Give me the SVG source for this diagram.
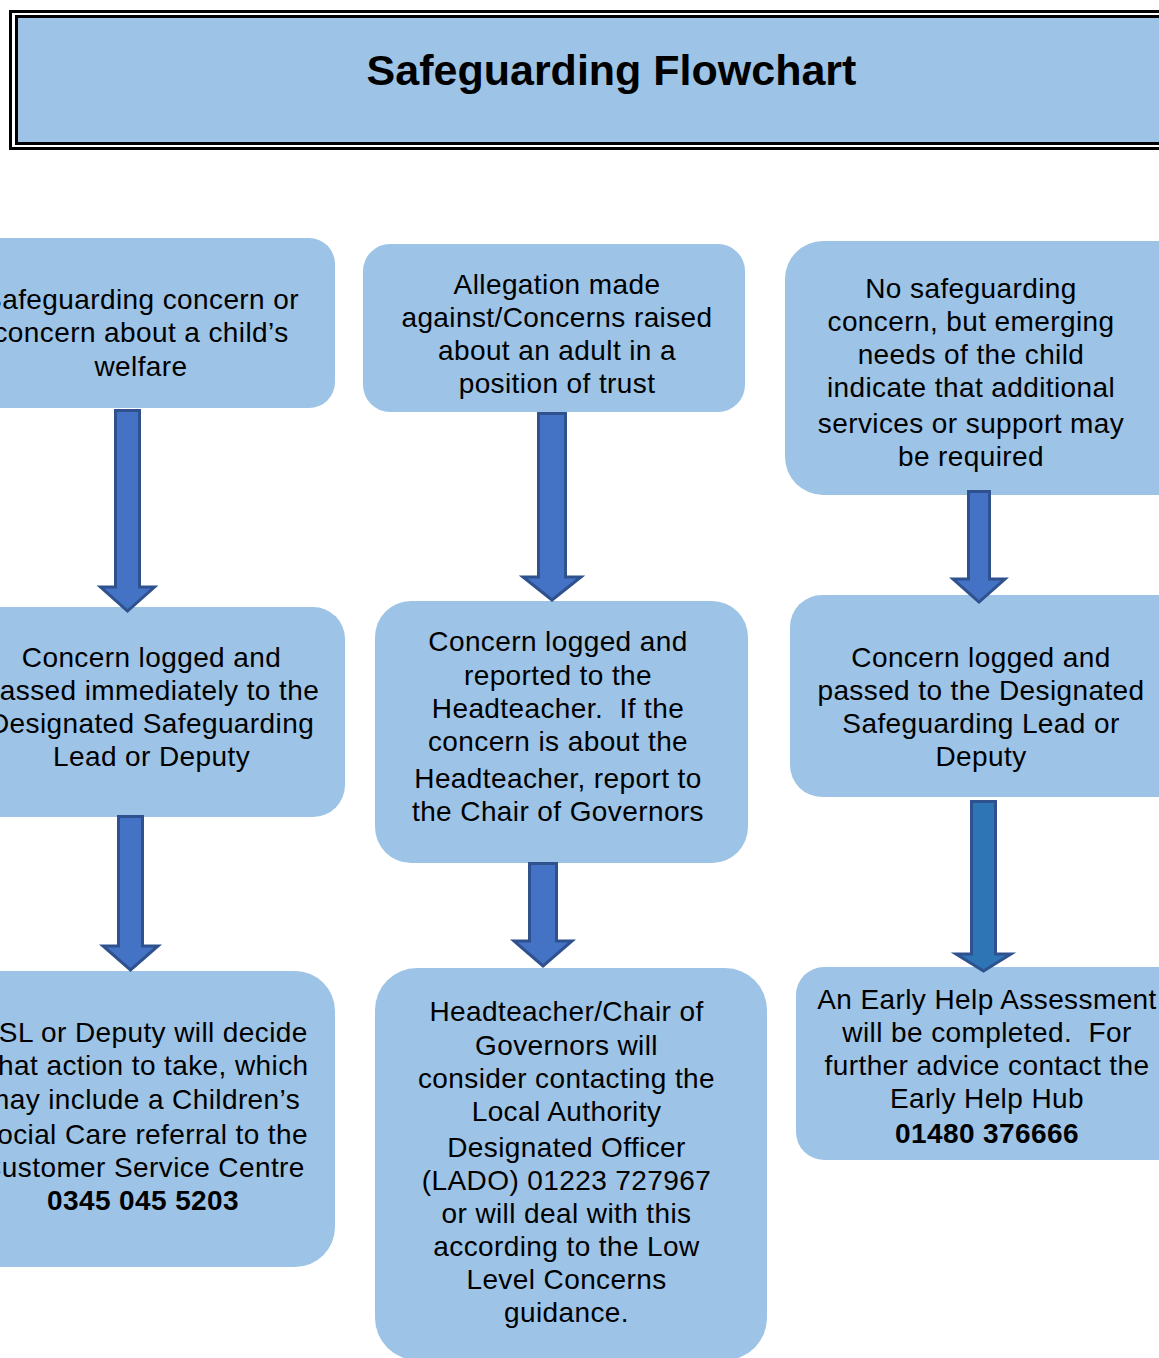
<svg xmlns="http://www.w3.org/2000/svg" width="1159" height="1358" viewBox="0 0 1159 1358">
<style>
.box{fill:#9DC3E6}
.t{font-family:"Liberation Sans",Arial,sans-serif;font-size:28px;text-anchor:middle;fill:#000;letter-spacing:0.4px;white-space:pre}
.b{font-weight:bold}
.arrow{fill:#4472C4;stroke:#2F528F;stroke-width:3;stroke-linejoin:miter}
.arrow2{fill:#2E75B6;stroke:#2F528F;stroke-width:3}
</style>
<rect width="1159" height="1358" fill="#fff"/>
<g id="title">
<rect x="10.5" y="11.5" width="1170" height="137" fill="none" stroke="#000" stroke-width="3"/>
<rect x="16.5" y="16.5" width="1170" height="127" fill="#9DC3E6" stroke="#000" stroke-width="3"/>
<text x="611.5" y="85" style="font-family:'Liberation Sans',Arial,sans-serif;font-size:43px;font-weight:bold;text-anchor:middle;fill:#000">Safeguarding Flowchart</text>
</g>
<g id="a1">
<rect class="box" x="-60" y="238" width="395" height="170" rx="26"/>
<text class="t"><tspan x="141" y="309">Safeguarding concern or</tspan><tspan x="141" y="342">concern about a child’s</tspan><tspan x="141" y="376">welfare</tspan></text>
</g>
<g id="b1">
<rect class="box" x="363" y="244" width="382" height="168" rx="27"/>
<text class="t"><tspan x="557" y="294">Allegation made</tspan><tspan x="557" y="327">against/Concerns raised</tspan><tspan x="557" y="360">about an adult in a</tspan><tspan x="557" y="393">position of trust</tspan></text>
</g>
<g id="c1">
<rect class="box" x="785" y="241" width="420" height="254" rx="38"/>
<text class="t"><tspan x="971" y="298">No safeguarding</tspan><tspan x="971" y="331">concern, but emerging</tspan><tspan x="971" y="364">needs of the child</tspan><tspan x="971" y="397">indicate that additional</tspan><tspan x="971" y="433">services or support may</tspan><tspan x="971" y="466">be required</tspan></text>
</g>
<g id="a2">
<rect class="box" x="-50" y="607" width="395" height="210" rx="32"/>
<text class="t"><tspan x="151.5" y="667">Concern logged and</tspan><tspan x="151.5" y="700">passed immediately to the</tspan><tspan x="151.5" y="733">Designated Safeguarding</tspan><tspan x="151.5" y="766">Lead or Deputy</tspan></text>
</g>
<g id="b2">
<rect class="box" x="375" y="601" width="373" height="262" rx="36"/>
<text class="t"><tspan x="558" y="651">Concern logged and</tspan><tspan x="558" y="685">reported to the</tspan><tspan x="558" y="718">Headteacher.  If the</tspan><tspan x="558" y="751">concern is about the</tspan><tspan x="558" y="788">Headteacher, report to</tspan><tspan x="558" y="821">the Chair of Governors</tspan></text>
</g>
<g id="c2">
<rect class="box" x="790" y="595" width="420" height="202" rx="32"/>
<text class="t"><tspan x="981" y="667">Concern logged and</tspan><tspan x="981" y="700">passed to the Designated</tspan><tspan x="981" y="733">Safeguarding Lead or</tspan><tspan x="981" y="766">Deputy</tspan></text>
</g>
<g id="a3">
<rect class="box" x="-60" y="971" width="395" height="296" rx="40"/>
<text class="t"><tspan x="143" y="1042">DSL or Deputy will decide</tspan><tspan x="143" y="1075">what action to take, which</tspan><tspan x="143" y="1109">may include a Children’s</tspan><tspan x="143" y="1144">Social Care referral to the</tspan><tspan x="143" y="1177">Customer Service Centre</tspan><tspan x="143" y="1210" class="b">0345 045 5203</tspan></text>
</g>
<g id="b3">
<rect class="box" x="375" y="968" width="392" height="392" rx="42"/>
<text class="t"><tspan x="566.5" y="1021">Headteacher/Chair of</tspan><tspan x="566.5" y="1055">Governors will</tspan><tspan x="566.5" y="1088">consider contacting the</tspan><tspan x="566.5" y="1121">Local Authority</tspan><tspan x="566.5" y="1157">Designated Officer</tspan><tspan x="566.5" y="1190">(LADO) 01223 727967</tspan><tspan x="566.5" y="1223">or will deal with this</tspan><tspan x="566.5" y="1256">according to the Low</tspan><tspan x="566.5" y="1289">Level Concerns</tspan><tspan x="566.5" y="1322">guidance.</tspan></text>
</g>
<g id="c3">
<rect class="box" x="796" y="967" width="420" height="193" rx="28"/>
<text class="t"><tspan x="987" y="1009">An Early Help Assessment</tspan><tspan x="987" y="1042">will be completed.  For</tspan><tspan x="987" y="1075">further advice contact the</tspan><tspan x="987" y="1108">Early Help Hub</tspan><tspan x="987" y="1143" class="b">01480 376666</tspan></text>
</g>
<g id="connectors">
<polygon class="arrow" points="115.5,410.5 139.5,410.5 139.5,587 154.5,587 127.5,611 100.5,587 115.5,587"/>
<polygon class="arrow" points="118.5,816.5 142.5,816.5 142.5,946 158,946 130.5,970 103,946 118.5,946"/>
<polygon class="arrow" points="538.5,413.5 565.5,413.5 565.5,577 581,577 552,600 523,577 538.5,577"/>
<polygon class="arrow" points="529.5,863.5 556.5,863.5 556.5,941 572,941 543,966 514,941 529.5,941"/>
<polygon class="arrow" points="968.5,491.5 989.5,491.5 989.5,579 1005,579 979,602 953,579 968.5,579"/>
<polygon class="arrow2" points="971.5,801.5 995.5,801.5 995.5,954 1011,954 983.5,971 956,954 971.5,954"/>
</g>
</svg>
